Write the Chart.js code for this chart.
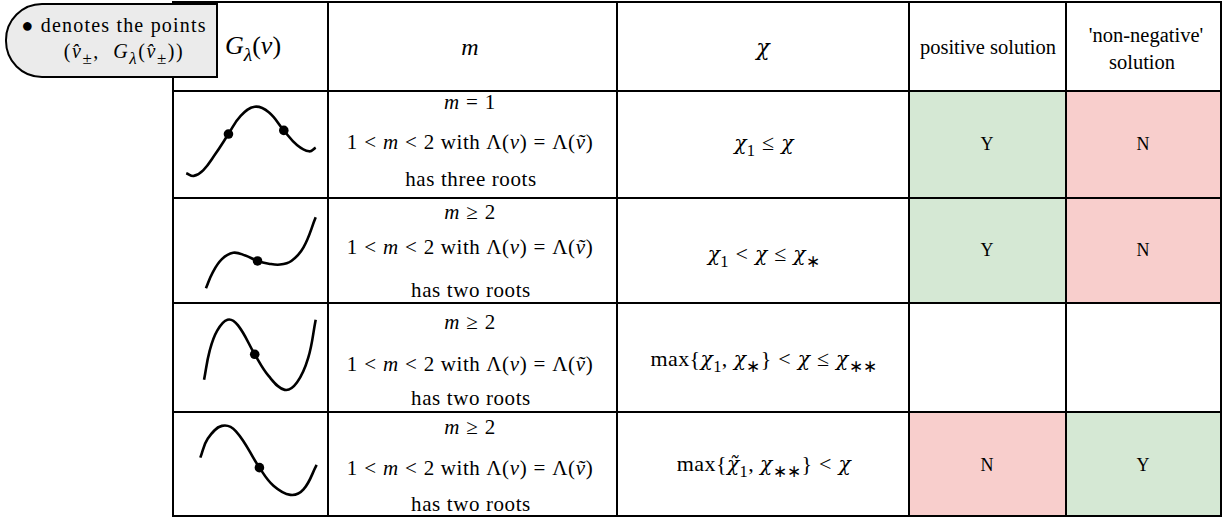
<!DOCTYPE html>
<html><head><meta charset="utf-8">
<script src="https://cdn.jsdelivr.net/npm/chart.js@4/dist/chart.umd.min.js"></script>
<style>
html,body{margin:0;padding:0;background:#fff;}
body{width:1227px;height:521px;position:relative;overflow:hidden;font-family:"Liberation Serif",serif;color:#000;}
.cell{position:absolute;box-sizing:border-box;border:2px solid #000;}
.t{position:absolute;white-space:nowrap;transform:translate(-50%,-50%);line-height:1;}
sub{font-size:75%;vertical-align:-0.35em;line-height:0;}
.lg sub{font-size:85%;}
.op{margin:0 0.3em;}
.chi{font-family:"DejaVu Serif",serif;font-style:italic;font-size:0.92em;}
canvas{position:absolute;}
#legendBox{position:absolute;box-sizing:border-box;border:2px solid #000;border-radius:37px 0 0 37px;background:#ebebeb;}
</style></head><body>
<script>
// ---- data ----
// curve samples (cell-local units: x across the cell, y = height above the cell bottom)
const curve1X = [9, 17, 27, 40, 54, 67, 82, 97, 113, 127, 140, 147];
const curve1Y = [22, 19, 25, 43, 65, 85, 95, 89, 69, 53, 46, 50];
const dots1X = [54, 113];
const dots1Y = [65, 69];

const curve2X = [30, 37, 47, 59, 72, 85, 97, 109, 121, 134, 147];
const curve2Y = [11, 28, 43, 50, 47, 41, 38, 37, 41, 56, 89];
const dots2X = [85];
const dots2Y = [41];

const curve3X = [28, 34, 42, 53, 64, 82, 97, 114, 127, 139, 147];
const curve3Y = [30, 62, 84, 96, 90, 58, 34, 19, 27, 54, 96];
const dots3X = [82];
const dots3Y = [58];

const curve4X = [24, 32, 47, 62, 87, 102, 120, 134, 148];
const curve4Y = [59, 80, 94, 88, 48, 28, 18, 24, 51];
const dots4X = [87];
const dots4Y = [48];

const headerLabels = ['<i>G</i><sub><i>λ</i></sub>(<i>v</i>)', '<i>m</i>', '<span class="chi">χ</span>', 'positive solution', "'non-negative'", 'solution'];
const mFirstLines = ['<i>m</i><span class="op">=</span>1', '<i>m</i><span class="op">≥</span>2', '<i>m</i><span class="op">≥</span>2', '<i>m</i><span class="op">≥</span>2'];
const mMiddleLine = '1<span class="op">&lt;</span><i>m</i><span class="op">&lt;</span>2 with Λ(<i>v</i>)<span class="op">=</span>Λ(<i>ṽ</i>)';
const mLastLines = ['has three roots', 'has two roots', 'has two roots', 'has two roots'];
const chiLabels = [
  '<span class="chi">χ</span><sub>1</sub><span class="op">≤</span><span class="chi">χ</span>',
  '<span class="chi">χ</span><sub>1</sub><span class="op">&lt;</span><span class="chi">χ</span><span class="op">≤</span><span class="chi">χ</span><sub>∗</sub>',
  'max{<span class="chi">χ</span><sub>1</sub>, <span class="chi">χ</span><sub>∗</sub>}<span class="op">&lt;</span><span class="chi">χ</span><span class="op">≤</span><span class="chi">χ</span><sub>∗∗</sub>',
  'max{<span class="chi">χ̃</span><sub>1</sub>, <span class="chi">χ</span><sub>∗∗</sub>}<span class="op">&lt;</span><span class="chi">χ</span>'
];
const positiveSolution = ['Y', 'Y', '', 'N'];
const nonNegativeSolution = ['N', 'N', '', 'Y'];

const curves = [
  {x: curve1X, y: curve1Y, dx: dots1X, dy: dots1Y},
  {x: curve2X, y: curve2Y, dx: dots2X, dy: dots2Y},
  {x: curve3X, y: curve3Y, dx: dots3X, dy: dots3Y},
  {x: curve4X, y: curve4Y, dx: dots4X, dy: dots4Y}
];

// ---- layout ----
const colX = [173, 328, 617, 909, 1066, 1221];
const rowY = [2, 91, 198, 303, 412, 516];
const mLineY = [[102, 142, 179], [212, 247, 290], [322, 364, 398], [427, 468, 504]];
const chiY = [143, 254, 359, 464];
const ynY = [144, 250, 357, 465];
const GREEN = '#d5e8d4', RED = '#f8cecc';

function cell(c, r, bg) {
  const d = document.createElement('div');
  d.className = 'cell';
  d.style.left = (colX[c] - 1) + 'px';
  d.style.top = (rowY[r] - 1) + 'px';
  d.style.width = (colX[c + 1] - colX[c] + 2) + 'px';
  d.style.height = (rowY[r + 1] - rowY[r] + 2) + 'px';
  d.style.background = bg || '#fff';
  document.body.appendChild(d);
}
function text(html, x, y, size, extra, cls) {
  const d = document.createElement('div');
  d.className = 't' + (cls ? ' ' + cls : '');
  d.innerHTML = html;
  d.style.left = x + 'px';
  d.style.top = y + 'px';
  d.style.fontSize = size + 'px';
  if (extra) Object.assign(d.style, extra);
  document.body.appendChild(d);
  return d;
}
const ynColor = v => v === 'Y' ? GREEN : (v === 'N' ? RED : '#fff');

for (let r = 0; r < 5; r++) {
  for (let c = 0; c < 5; c++) {
    let bg = '#fff';
    if (r > 0 && c === 3) bg = ynColor(positiveSolution[r - 1]);
    if (r > 0 && c === 4) bg = ynColor(nonNegativeSolution[r - 1]);
    cell(c, r, bg);
  }
}

// legend box
const lb = document.createElement('div');
lb.id = 'legendBox';
Object.assign(lb.style, {left: '5px', top: '3px', width: '213px', height: '75px'});
document.body.appendChild(lb);
const mathSp = {letterSpacing: '0.6px'};
text('● denotes the points', 114, 25, 20, {letterSpacing: '1.2px'});
text('(<i>v̂</i><sub>±</sub>,&nbsp; <i>G</i><sub><i>λ</i></sub>(<i>v̂</i><sub>±</sub>))', 124, 51, 20, {letterSpacing: '1.6px'}, 'lg');

// header
text(headerLabels[0], 253, 46, 26);
text(headerLabels[1], 470, 47, 24);
text(headerLabels[2], 763, 47, 24);
text(headerLabels[3], 988, 47, 20.5);
text(headerLabels[4], 1146, 35, 20.5);
text(headerLabels[5], 1142, 62, 20.5);

for (let r = 0; r < 4; r++) {
  text(mFirstLines[r], 470, mLineY[r][0], 21, mathSp);
  text(mMiddleLine, 470, mLineY[r][1], 21, mathSp);
  text(mLastLines[r], 471, mLineY[r][2], 21, mathSp);
  text(chiLabels[r], 764, chiY[r], 22, {letterSpacing: '0.4px'});
  if (positiveSolution[r]) text(positiveSolution[r], 987, ynY[r], 18);
  if (nonNegativeSolution[r]) text(nonNegativeSolution[r], 1143, ynY[r], 18);
}

// curves via Chart.js
curves.forEach((cv, i) => {
  const w = colX[1] - colX[0];
  const h = rowY[i + 2] - rowY[i + 1];
  const cnv = document.createElement('canvas');
  cnv.width = w; cnv.height = h;
  cnv.style.left = colX[0] + 'px';
  cnv.style.top = rowY[i + 1] + 'px';
  cnv.style.width = w + 'px'; cnv.style.height = h + 'px';
  document.body.appendChild(cnv);
  new Chart(cnv, {
    type: 'scatter',
    data: {
      datasets: [
        {data: cv.x.map((x, k) => ({x, y: cv.y[k]})), showLine: true, borderColor: '#000', borderWidth: 2.6,
         pointRadius: 0, tension: 0.4, fill: false},
        {data: cv.dx.map((x, k) => ({x, y: cv.dy[k]})), showLine: false, pointRadius: 4.8,
         backgroundColor: '#000', borderColor: '#000', borderWidth: 0}
      ]
    },
    options: {
      responsive: false, animation: false, maintainAspectRatio: false,
      layout: {padding: 0},
      plugins: {legend: {display: false}, tooltip: {enabled: false}},
      scales: {
        x: {type: 'linear', display: false, min: 0, max: w},
        y: {type: 'linear', display: false, min: 0, max: h}
      },
      clip: false
    }
  });
});
</script>
</body></html>
